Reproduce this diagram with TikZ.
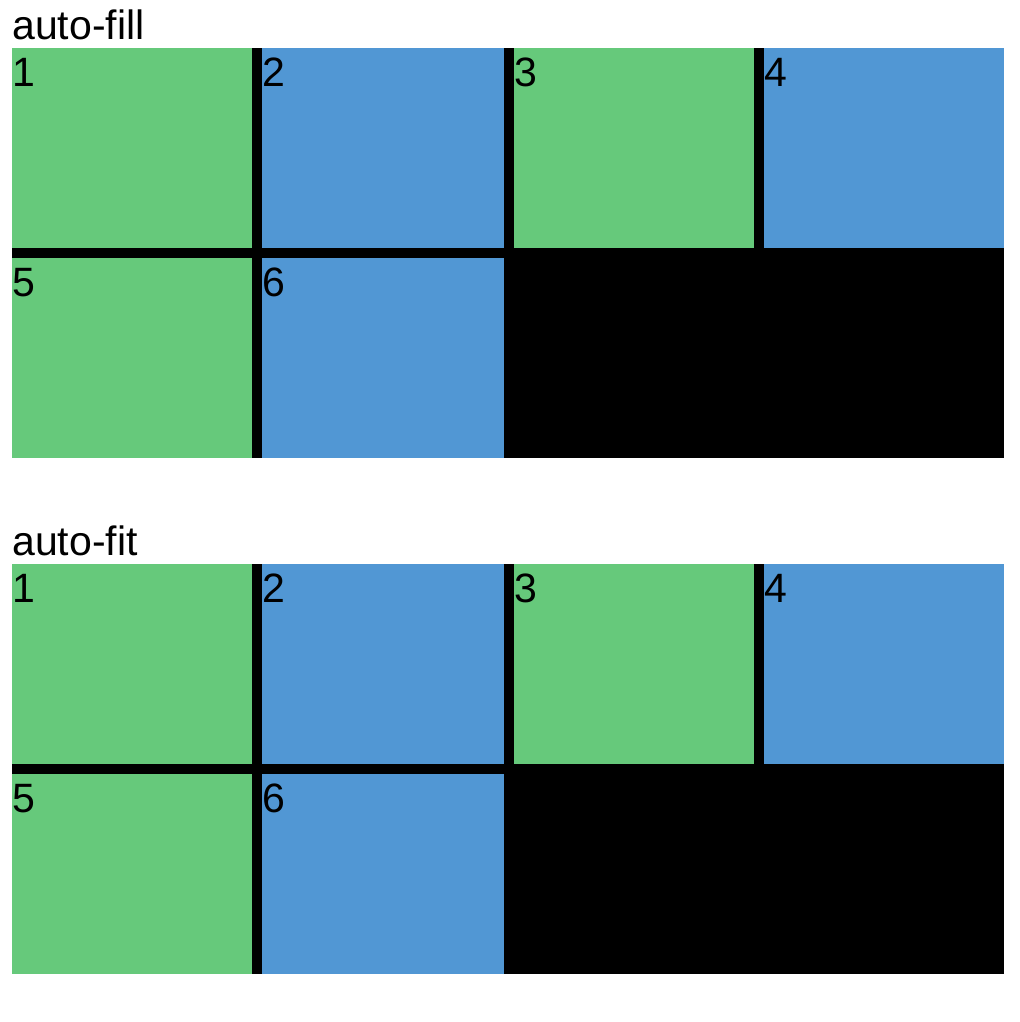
\documentclass[tikz,border=0pt]{standalone}
\usepackage{fontspec}
\setmainfont{Liberation Sans}
\usetikzlibrary{calc}
\definecolor{cellgreen}{RGB}{102,201,123}
\definecolor{cellblue}{RGB}{81,151,212}
\begin{document}
\begin{tikzpicture}[x=0.75pt,y=-0.75pt,
  txt/.style={inner sep=0pt,anchor=base west,font=\fontsize{30.75pt}{36pt}\selectfont},
  cellbox/.style={inner sep=0pt,outer sep=0pt,anchor=north west,minimum height=150pt},
  gcell/.style={cellbox,fill=cellgreen,minimum width=180pt},
  bcell/.style={cellbox,fill=cellblue,minimum width=181.5pt},
  bcellB/.style={cellbox,fill=cellblue,minimum width=180pt},
  gridbg/.style={fill=black}]
\useasboundingbox[fill=white] (0,0) rectangle (1020,1022);
% ---------- auto-fill ----------
\node[txt] (t1) at (12,39) {auto-fill};
\fill[gridbg] (12,48) rectangle (1004,458);
\node[gcell] (a1) at (12,48) {};
\node[bcell] (a2) at (262,48) {};
\node[gcell] (a3) at (514,48) {};
\node[bcellB] (a4) at (764,48) {};
\node[gcell] (a5) at (12,258) {};
\node[bcell] (a6) at (262,258) {};
\foreach \i in {1,...,6}{
  \node[txt] (la\i) at ($(a\i.north west)+(0,38)$) {\i};
}
% ---------- auto-fit ----------
\node[txt] (t2) at (12,555) {auto-fit};
\fill[gridbg] (12,564) rectangle (1004,974);
\node[gcell] (b1) at (12,564) {};
\node[bcell] (b2) at (262,564) {};
\node[gcell] (b3) at (514,564) {};
\node[bcellB] (b4) at (764,564) {};
\node[gcell] (b5) at (12,774) {};
\node[bcell] (b6) at (262,774) {};
\foreach \i in {1,...,6}{
  \node[txt] (lb\i) at ($(b\i.north west)+(0,38)$) {\i};
}
\end{tikzpicture}
\end{document}
